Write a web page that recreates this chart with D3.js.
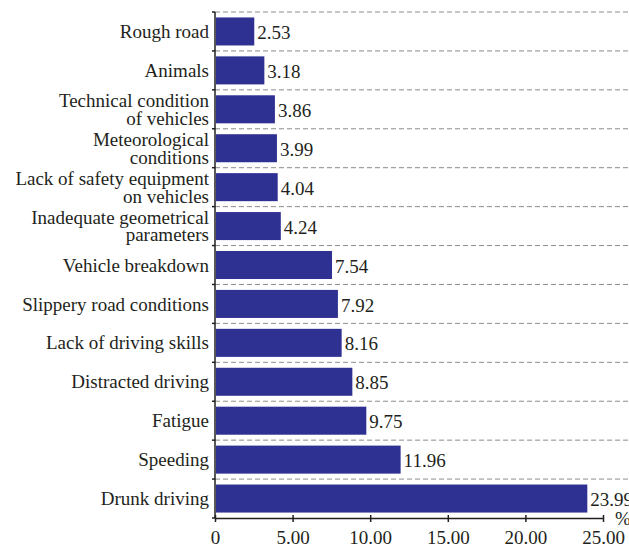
<!DOCTYPE html>
<html>
<head>
<meta charset="utf-8">
<script src="https://cdn.jsdelivr.net/npm/d3@7"></script>
<style>
  body { margin: 0; background: #fff; }
  text { font-family: "Liberation Serif", "DejaVu Serif", serif; fill: #231f20; }
</style>
</head>
<body>
<script>
// categories from top to bottom, as shown
const causes = [
    ["Rough road"],
    ["Animals"],
    ["Technical condition", "of vehicles"],
    ["Meteorological", "conditions"],
    ["Lack of safety equipment", "on vehicles"],
    ["Inadequate geometrical", "parameters"],
    ["Vehicle breakdown"],
    ["Slippery road conditions"],
    ["Lack of driving skills"],
    ["Distracted driving"],
    ["Fatigue"],
    ["Speeding"],
    ["Drunk driving"]
];
const shares = [2.53, 3.18, 3.86, 3.99, 4.04, 4.24, 7.54, 7.92, 8.16, 8.85, 9.75, 11.96, 23.99];
const xTicks = [0, 5, 10, 15, 20, 25];

const margin = { top: 12, right: 26, bottom: 30, left: 215 },
    width = 629 - margin.left - margin.right,
    height = 548 - margin.top - margin.bottom;

const fs = "19px";

const data = causes.map((c, i) => ({ key: c.join(" "), lines: c, value: shares[i] }));

const svg = d3.select("body").append("svg")
    .attr("width", 629)
    .attr("height", 548)
    .append("g")
    .attr("transform", "translate(" + margin.left + "," + margin.top + ")");

const x = d3.scaleLinear().domain([0, 25]).range([0, width]);
const y = d3.scaleBand().domain(data.map(d => d.key)).range([0, height]).paddingInner(0.28).paddingOuter(0.14);

// dashed separators between rows
const step = y.step();
const bounds = data.map(d => y(d.key) - y.paddingInner() * step / 2);
svg.append("g").selectAll("line")
    .data(bounds)
    .join("line")
    .attr("x1", 0).attr("x2", 629 - margin.left)
    .attr("y1", d => d).attr("y2", d => d)
    .attr("stroke", "#8c8c8c")
    .attr("stroke-width", 1)
    .attr("stroke-dasharray", "5,3");

svg.selectAll("rect.bar")
    .data(data)
    .join("rect")
    .attr("class", "bar")
    .attr("x", 1)
    .attr("y", d => y(d.key))
    .attr("width", d => x(d.value) - 1)
    .attr("height", y.bandwidth())
    .attr("fill", "#2e3192");

svg.selectAll("text.val")
    .data(data)
    .join("text")
    .attr("class", "val")
    .attr("x", d => x(d.value) + 3)
    .attr("y", d => y(d.key) + y.bandwidth() / 2 + 1)
    .attr("dy", "0.35em")
    .style("font-size", fs)
    .text(d => d.value.toFixed(2));

// category labels
const lab = svg.selectAll("text.cat")
    .data(data)
    .join("text")
    .attr("class", "cat")
    .attr("text-anchor", "end")
    .style("font-size", fs);
lab.each(function (d) {
    const t = d3.select(this);
    const cy = y(d.key) + y.bandwidth() / 2;
    const n = d.lines.length;
    d.lines.forEach((l, i) => {
        t.append("tspan")
            .attr("x", -6)
            .attr("y", cy + (i - (n - 1) / 2) * 17.5)
            .attr("dy", "0.35em")
            .text(l);
    });
});

// left axis line with ticks at row boundaries
const left = svg.append("g");
left.append("line").attr("x1", 0).attr("x2", 0).attr("y1", 0).attr("y2", height)
    .attr("stroke", "#231f20").attr("stroke-width", 1.5);
left.selectAll("line.tk")
    .data(bounds.concat([height]))
    .join("line")
    .attr("class", "tk")
    .attr("x1", -3).attr("x2", 0)
    .attr("y1", d => d).attr("y2", d => d)
    .attr("stroke", "#231f20").attr("stroke-width", 1.5);

// bottom axis
const bottomA = svg.append("g").attr("transform", "translate(0," + height + ")");
bottomA.call(d3.axisBottom(x).tickValues(xTicks).tickSize(4).tickSizeOuter(0)
    .tickFormat(d => d === 0 ? "0" : d3.format(".2f")(d)));
bottomA.select(".domain").attr("stroke", "#231f20").attr("stroke-width", 1.5);
bottomA.selectAll(".tick line").attr("stroke", "#231f20").attr("stroke-width", 1.5).attr("y1", -3);
bottomA.selectAll(".tick text")
    .attr("y", 13)
    .style("font-size", fs)
    .style("font-family", "Liberation Serif, serif")
    .attr("fill", "#231f20");

svg.append("text")
    .attr("x", width + 20)
    .attr("y", height + 7)
    .attr("text-anchor", "middle")
    .style("font-size", fs)
    .text("%");
</script>
</body>
</html>
